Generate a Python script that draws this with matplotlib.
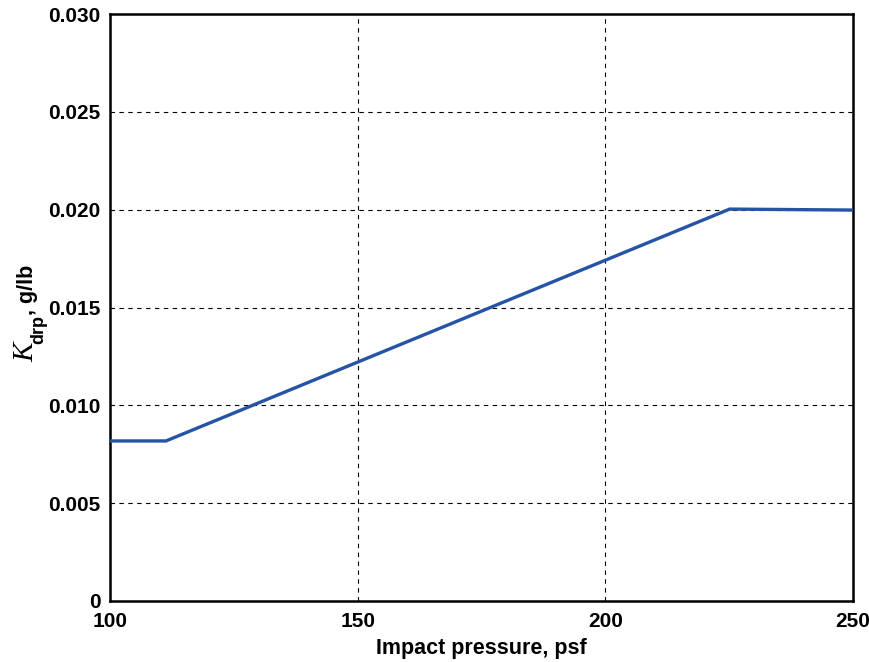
import matplotlib
matplotlib.use("Agg")
import matplotlib.pyplot as plt

# Drop coefficient vs. impact pressure
pressure_psf = [100, 111.3, 225.1, 250]
k_drp = [0.00818, 0.00818, 0.02003, 0.01998]

x_ticks = [100, 150, 200, 250]
y_ticks = [0, 0.005, 0.010, 0.015, 0.020, 0.025, 0.030]
y_tick_labels = ["0", "0.005", "0.010", "0.015", "0.020", "0.025", "0.030"]

plt.rcParams["font.family"] = ["Liberation Sans", "DejaVu Sans"]
plt.rcParams["font.weight"] = "bold"

W, H = 869, 662
fig = plt.figure(figsize=(W / 100, H / 100), dpi=100)
ax = fig.add_axes([110 / W, 1 - 601 / H, (853 - 110) / W, (601 - 14) / H])

ax.plot(pressure_psf, k_drp, color="#2553a5", linewidth=2.4, solid_capstyle="butt", zorder=3)

ax.set_xlim(100, 250)
ax.set_ylim(0, 0.030)
ax.set_xticks(x_ticks)
ax.set_xticklabels([str(v) for v in x_ticks])
ax.set_yticks(y_ticks)
ax.set_yticklabels(y_tick_labels)
ax.tick_params(axis="y", length=0, labelsize=15, pad=7)
ax.tick_params(axis="x", length=0, labelsize=15, pad=8)
for lbl in ax.get_xticklabels() + ax.get_yticklabels():
    lbl.set_fontweight("bold")

ax.grid(True, color="black", linestyle=(0, (4, 4)), linewidth=0.8)
for s in ax.spines.values():
    s.set_linewidth(1.8)
    s.set_color("black")

ax.set_xlabel("Impact pressure, psf", fontsize=15.5, fontweight="bold", labelpad=5)

# Y-axis label built from pieces: italic serif K, bold sans subscript, units
renderer = fig.canvas.get_renderer()
base_x = 33 / W
y0 = 1 - 362 / H
k_txt = fig.text(base_x, y0, "K", rotation=90, rotation_mode="anchor",
                 ha="left", va="baseline", fontsize=21,
                 family="Liberation Serif", style="italic", fontweight="normal")
k_len = k_txt.get_window_extent(renderer).height / H
sub_txt = fig.text(base_x + 10 / W, y0 + k_len - 1 / H, "drp", rotation=90,
                   rotation_mode="anchor", ha="left", va="baseline",
                   fontsize=13, fontweight="bold")
sub_len = sub_txt.get_window_extent(renderer).height / H
fig.text(base_x, y0 + k_len + sub_len - 1 / H, ", g/lb", rotation=90,
         rotation_mode="anchor", ha="left", va="baseline",
         fontsize=15.5, fontweight="bold")

fig.savefig("out.png", dpi=100)
